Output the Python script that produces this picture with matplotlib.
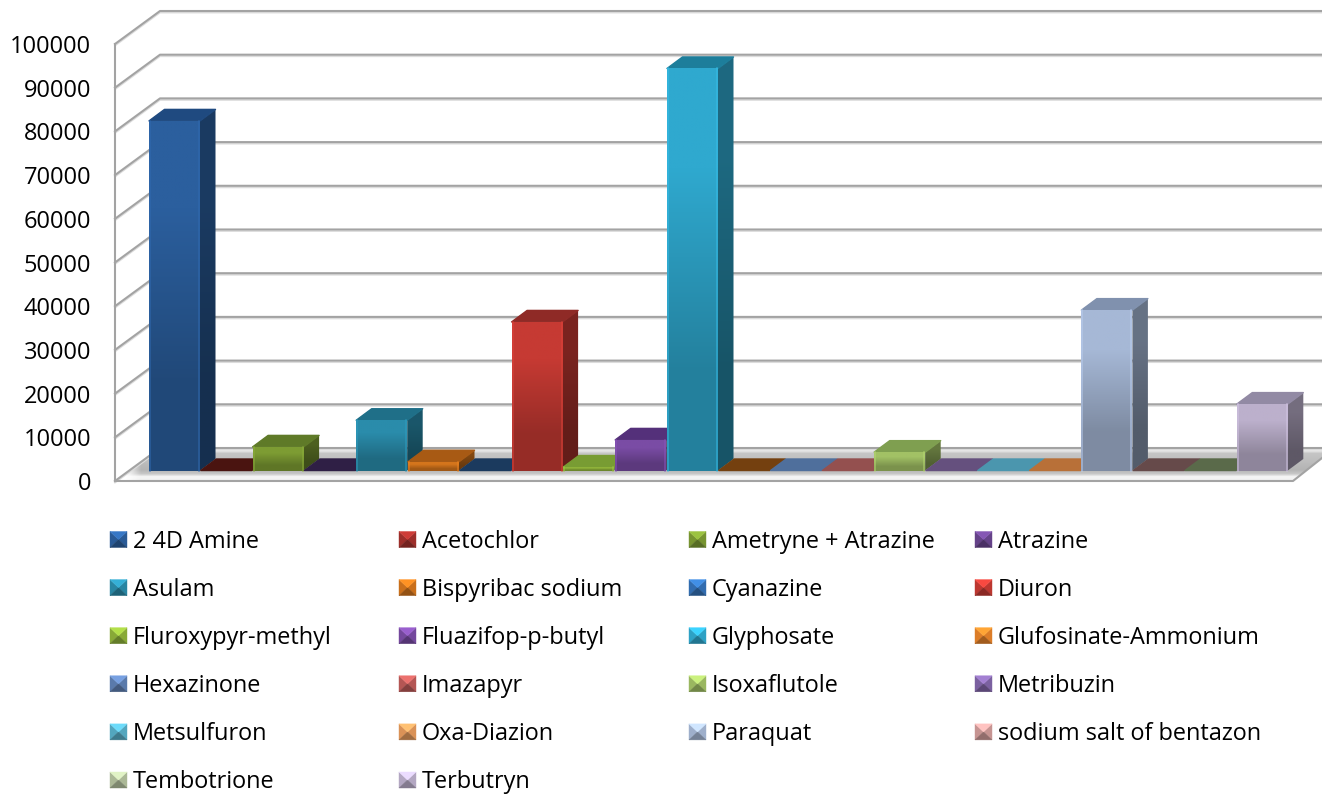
import numpy as np
import matplotlib
matplotlib.use('Agg')
import matplotlib.pyplot as plt
from matplotlib.colors import to_rgb
from matplotlib.patches import Polygon

plt.rcParams['font.family'] = ['Open Sans', 'DejaVu Sans']

# values
names = ['2 4D Amine', 'Acetochlor', 'Ametryne + Atrazine', 'Atrazine',
         'Asulam', 'Bispyribac sodium', 'Cyanazine', 'Diuron',
         'Fluroxypyr-methyl', 'Fluazifop-p-butyl', 'Glyphosate', 'Glufosinate-Ammonium',
         'Hexazinone', 'Imazapyr', 'Isoxaflutole', 'Metribuzin',
         'Metsulfuron', 'Oxa-Diazion', 'Paraquat', 'sodium salt of bentazon',
         'Tembotrione', 'Terbutryn']
values = [80000, 0, 5400, 0,
          11500, 2000, 0, 34000,
          800, 7000, 92000, 0,
          0, 0, 4200, 0,
          0, 0, 36700, 0,
          0, 15200]
yticks = [0, 10000, 20000, 30000, 40000, 50000, 60000, 70000, 80000, 90000, 100000]

face_colors = ['#2b5f9e', '#a5302c', '#7d9c33', '#6a4590',
               '#2a8cab', '#d4751c', '#3472b8', '#c63a33',
               '#8fb23a', '#7a4ca5', '#2fa9cf', '#e8842a',
               '#5f80b4', '#bd5a58', '#a2c165', '#8266a8',
               '#57afc8', '#e59a5c', '#a6b8d6', '#d09c9a',
               '#b4c29e', '#bcb0cc']
top_colors = ['#1f4a80', '#4a1410', '#5f7a28', '#2f1f45',
              '#1f6f88', '#a85a14', '#1b3a5e', '#8f2a26',
              '#789c33', '#54307a', '#1d7e9b', '#74400f',
              '#4f6f9c', '#94504f', '#7f9f50', '#65507e',
              '#4b96ae', '#b87038', '#8091ae', '#664a4a',
              '#5a6a4a', '#928aa4']

PX_PER_CAT = 51.8
PX_PER_UNIT = 4.37 / 1000


def X(px):
    return (px - 149) / PX_PER_CAT


def V(py):
    return (470.5 - py) / PX_PER_UNIT


def shade(c, f):
    r = np.array(to_rgb(c)) * f
    return tuple(np.clip(r, 0, 1))


def grad_fill(patch, c_top, c_bot, z):
    # vertical gradient clipped to the patch
    xy = patch.get_xy()
    img = np.array([[to_rgb(c_top)], [to_rgb(c_bot)]])
    im = ax.imshow(img, extent=[xy[:, 0].min(), xy[:, 0].max(), xy[:, 1].min(), xy[:, 1].max()],
                   aspect='auto', interpolation='bilinear', zorder=z)
    im.set_clip_path(patch)


fig = plt.figure(figsize=(13.22, 7.96), dpi=100)
ax = fig.add_axes([0, 0, 1, 1])
ax.axis('off')
xlim = (X(0), X(1322))
ylim = (V(796), V(0))

# floor
floor = Polygon([(X(115), V(481)), (X(1293), V(481)), (X(1322), V(458)),
                 (X(1322), V(450)), (X(160), V(450))], closed=True, fc='none', ec='none')
ax.add_patch(floor)
stop_py = [450, 453, 470, 474, 477, 481]
stop_c = [to_rgb(c) for c in ['#eeeeee', '#c6c6c6', '#b4b4b4', '#c8c8c8', '#f6f6f6', '#f0f0f0']]
rows = np.arange(450, 482)
img = np.stack([np.interp(rows, stop_py, [c[k] for c in stop_c]) for k in range(3)], axis=1)[:, None, :]
im = ax.imshow(img, extent=[X(115), X(1322), V(481), V(450)], aspect='auto',
               interpolation='bilinear', zorder=1)
im.set_clip_path(floor)
# floor fades to white in the left corner
fade = np.ones((1, 2, 4))
fade[0, 1, 3] = 0
im = ax.imshow(fade, extent=[X(118), X(149), V(481), V(450)], aspect='auto',
               interpolation='bilinear', zorder=1.1)
im.set_clip_path(floor)

# walls and grid
grid_c = '#a3a3a3'
for t in yticks:
    fx = [X(115), X(160), X(1322)]
    fy = [t + V(481), t + V(448), t + V(448)]
    ax.plot(fx, [y + V(449.6) - V(448) for y in fy], color='#dcdcdc', lw=1.2, zorder=1.5)
    ax.plot(fx, fy, color=grid_c, lw=1.5, zorder=2)
    ax.text(X(91), t + V(484), str(t), ha='right', va='center', fontsize=17, color='black')
ax.plot([X(115), X(115)], [V(481), yticks[-1] + V(481)], color=grid_c, lw=1.5, zorder=2)
ax.plot([X(115), X(1293), X(1322)], [V(481), V(481), V(458)], color=grid_c, lw=1.5, zorder=2)

# bars, left to right so the later ones cover the side of the earlier ones
dx = 15.5 / PX_PER_CAT
dy = 11.5 / PX_PER_UNIT
w = 51.0 / PX_PER_CAT
pos = np.arange(len(values))
bars = ax.bar(pos, values, width=w, align='edge', color=face_colors, linewidth=0, zorder=3)
for i, (b, v) in enumerate(zip(bars, values)):
    z = 3 + i * 0.1
    b.set_zorder(z)
    top = Polygon([(i, v), (i + w, v), (i + w + dx, v + dy), (i + dx, v + dy)], closed=True,
                  fc=top_colors[i], ec=top_colors[i], lw=1.0, joinstyle='round', zorder=z + 0.02)
    ax.add_patch(top)
    if v > 0:
        side = Polygon([(i + w, 0), (i + w + dx, dy), (i + w + dx, v + dy), (i + w, v)], closed=True,
                       fc='none', ec='none', zorder=z + 0.01)
        ax.add_patch(side)
        grad_fill(side, shade(face_colors[i], 0.62), shade(face_colors[i], 0.5), z + 0.01)
        front = Polygon([(i, 0), (i + w, 0), (i + w, v), (i, v)], closed=True,
                        fc='none', ec='none', zorder=z + 0.03)
        ax.add_patch(front)
        grad_fill(front, face_colors[i], shade(face_colors[i], 0.76), z + 0.03)
        ax.plot([i + 0.02, i + 0.02], [0, v], color=shade(face_colors[i], 1.12), lw=1.2, alpha=0.6, zorder=z + 0.04)
        ax.plot([i + w - 0.02, i + w - 0.02], [0, v], color=shade(face_colors[i], 1.12), lw=1.2, alpha=0.6, zorder=z + 0.04)

# legend, filled row by row like the original
col_px = [110, 399, 689, 975]
row_py = [539.5 + 48.1 * k for k in range(6)]
sw = 17
for i, name in enumerate(names):
    px = col_px[i % 4]
    py = row_py[i // 4]
    c = face_colors[i]
    l, r, t, b = X(px), X(px + sw), V(py - 8), V(py + 8)
    mx, my = (l + r) / 2, (t + b) / 2
    for pts, f in [([(l, t), (l, b), (mx, my)], 0.95), ([(r, t), (r, b), (mx, my)], 0.95),
                   ([(l, b), (r, b), (mx, my)], 0.7), ([(l, t), (r, t), (mx, my)], 1.25)]:
        col = shade(c, f)
        ax.add_patch(Polygon(pts, fc=col, ec=col, lw=0.3, zorder=3))
    ax.text(X(px + 23), V(py + 2), name, ha='left', va='center', fontsize=16.9, color='black')

ax.set_xlim(xlim)
ax.set_ylim(ylim)
fig.savefig('out.png', dpi=100)
